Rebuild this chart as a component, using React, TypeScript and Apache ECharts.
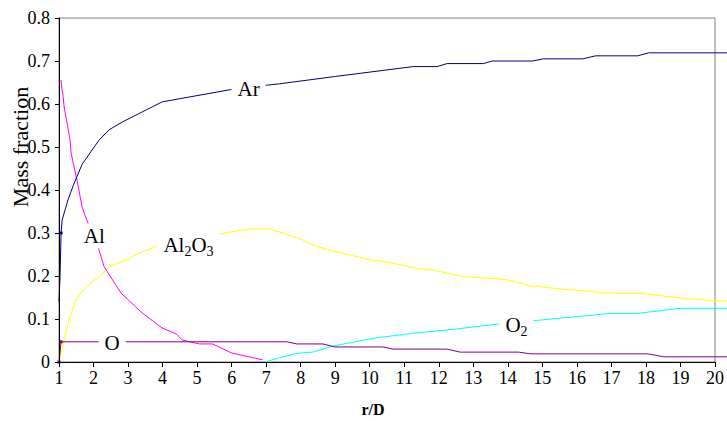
import React, { useEffect, useRef } from "react";
import * as echarts from "echarts";

// r/D positions and mass fractions
const arX = [1.0, 1.03, 1.06, 1.09, 1.26, 1.41, 1.67, 2.16, 2.45, 2.83, 3.99, 5.94, 7.04, 7.39, 9.0, 11.26, 11.95, 12.24, 13.29, 13.55, 14.71, 15.03, 16.17, 16.54, 17.76, 18.08, 20.35];
const arY = [0.14, 0.2, 0.3, 0.33, 0.377, 0.41, 0.46, 0.516, 0.54, 0.558, 0.605, 0.633, 0.644, 0.647, 0.664, 0.687, 0.687, 0.694, 0.694, 0.7, 0.7, 0.705, 0.705, 0.712, 0.712, 0.719, 0.719];

const alX = [1.06, 1.08, 1.12, 1.15, 1.32, 1.35, 1.52, 1.67, 1.78, 2.16, 2.31, 2.8, 3.41, 3.99, 4.4, 4.57, 5.07, 5.45, 6.0, 6.9];
const alY = [0.656, 0.637, 0.617, 0.593, 0.516, 0.486, 0.423, 0.36, 0.335, 0.26, 0.221, 0.16, 0.114, 0.079, 0.065, 0.051, 0.042, 0.042, 0.021, 0.005];

const al2o3X = [1.0, 1.06, 1.15, 1.29, 1.49, 1.78, 2.16, 2.45, 2.8, 3.32, 3.85, 5.94, 6.52, 7.1, 7.39, 8.06, 8.35, 8.93, 10.06, 10.67, 11.26, 11.95, 12.62, 13.99, 14.65, 15.53, 16.98, 17.79, 19.01, 20.03, 20.35];
const al2o3Y = [0.0, 0.02, 0.05, 0.098, 0.144, 0.175, 0.198, 0.221, 0.233, 0.253, 0.27, 0.302, 0.309, 0.309, 0.302, 0.284, 0.272, 0.258, 0.237, 0.23, 0.219, 0.212, 0.2, 0.191, 0.177, 0.17, 0.16, 0.16, 0.149, 0.142, 0.142];

const o2X = [6.96, 7.4, 7.89, 8.35, 8.93, 10.09, 11.26, 12.42, 13.7, 15.0, 16.98, 17.76, 19.01, 20.03, 20.35];
const o2Y = [0.0, 0.01, 0.02, 0.023, 0.037, 0.055, 0.067, 0.076, 0.088, 0.098, 0.113, 0.113, 0.125, 0.125, 0.125];

const oX = [1.0, 1.06, 7.6, 7.89, 8.64, 8.99, 10.38, 10.67, 12.24, 12.62, 14.31, 14.65, 18.05, 18.52, 20.35];
const oY = [0.0, 0.047, 0.047, 0.042, 0.042, 0.035, 0.035, 0.03, 0.03, 0.023, 0.023, 0.019, 0.019, 0.012, 0.012];

const xTicks = [1, 20];
const yTicks = [0, 0.8];

// series labels: [x, y] in data units
const arLabelAt = [6.49, 0.635];
const alLabelAt = [2.02, 0.293];
const al2o3LabelAt = [4.75, 0.277];
const o2LabelAt = [14.25, 0.091];
const oLabelAt = [2.54, 0.044];

const FONT = "'Liberation Serif', 'Times New Roman', Times, serif";

// plot frame (px) and how far the data lines run past the frame on the right
const PLOT_LEFT = 59;
const PLOT_RIGHT_GAP = 12;
const CHART_W = 727;

function pairs(xs: number[], ys: number[], marks: number[] = []) {
  return xs.map((x, i) =>
    marks.includes(i)
      ? { value: [x, ys[i]], symbol: "rect", symbolSize: 3 }
      : [x, ys[i]]
  );
}

function labelMark(at: number[], text: string, rich?: any) {
  return {
    silent: true,
    symbol: "rect",
    symbolSize: 0,
    data: [{ coord: at }],
    label: {
      show: true,
      position: "inside",
      formatter: text,
      color: "#000",
      fontFamily: FONT,
      fontSize: 21,
      backgroundColor: "#ffffff",
      padding: [2, 6, 2, 6],
      rich,
    },
  };
}

export default function App() {
  const ref = useRef<HTMLDivElement>(null);
  useEffect(() => {
    if (!ref.current) return;
    const chart = echarts.init(ref.current, null, { renderer: "svg" });
    const frameW = CHART_W - PLOT_LEFT - PLOT_RIGHT_GAP;
    const fullW = CHART_W - PLOT_LEFT;
    const extMax = xTicks[0] + (xTicks[1] - xTicks[0]) * (fullW / frameW);
    const lineBase = {
      type: "line",
      symbol: "none",
      showSymbol: true,
      clip: false,
      z: 2,
      xAxisIndex: 1,
      yAxisIndex: 1,
    };
    const subRich = {
      n: { fontFamily: FONT, fontSize: 21, color: "#000", lineHeight: 26, verticalAlign: "bottom" },
      s: { fontFamily: FONT, fontSize: 14, color: "#000", lineHeight: 20, verticalAlign: "bottom", padding: [0, 0, -3, 0] },
    };
    const hiddenAxis = {
      show: false,
      splitLine: { show: false },
      axisLine: { show: false },
      axisTick: { show: false },
      axisLabel: { show: false },
    };
    chart.setOption({
      animation: false,
      backgroundColor: "#ffffff",
      textStyle: { fontFamily: FONT },
      grid: [
        {
          left: PLOT_LEFT,
          top: 18,
          right: PLOT_RIGHT_GAP,
          bottom: 59,
          show: true,
          borderColor: "#808080",
          borderWidth: 1,
          backgroundColor: "transparent",
        },
        { left: PLOT_LEFT, top: 18, right: 0, bottom: 59, show: false },
      ],
      xAxis: [
        {
          type: "value",
          gridIndex: 0,
          min: xTicks[0],
          max: xTicks[1],
          interval: 1,
          splitLine: { show: false },
          axisLine: { show: true, onZero: false, lineStyle: { color: "#000", width: 1 } },
          axisTick: { show: true, inside: false, length: 5, lineStyle: { color: "#000" } },
          axisLabel: { color: "#000", fontFamily: FONT, fontSize: 18, margin: 7 },
          z: 5,
        },
        { type: "value", gridIndex: 1, min: xTicks[0], max: extMax, ...hiddenAxis },
      ],
      yAxis: [
        {
          type: "value",
          gridIndex: 0,
          min: yTicks[0],
          max: yTicks[1],
          interval: 0.1,
          splitLine: { show: false },
          axisLine: { show: true, lineStyle: { color: "#000", width: 1 } },
          axisTick: { show: true, inside: false, length: 4, lineStyle: { color: "#000" } },
          axisLabel: {
            color: "#000",
            fontFamily: FONT,
            fontSize: 18,
            margin: 9,
            formatter: (v: number) => String(Math.round(v * 10) / 10),
          },
          z: 5,
        },
        { type: "value", gridIndex: 1, min: yTicks[0], max: yTicks[1], ...hiddenAxis },
      ],
      graphic: [
        {
          type: "text",
          x: 20,
          y: 147,
          rotation: Math.PI / 2,
          style: {
            text: "Mass fraction",
            fontFamily: FONT,
            fontSize: 22,
            fill: "#000",
            align: "center",
            verticalAlign: "middle",
          },
          z: 10,
        },
        {
          type: "text",
          x: 373,
          y: 409,
          style: {
            text: "r/D",
            fontFamily: FONT,
            fontSize: 16,
            fontWeight: "bold",
            fill: "#000",
            align: "center",
            verticalAlign: "middle",
          },
        },
      ],
      series: [
        {
          ...lineBase,
          name: "Al2O3",
          data: pairs(al2o3X, al2o3Y),
          lineStyle: { color: "#ffff00", width: 1 },
          itemStyle: { color: "#ffff00" },
          markPoint: labelMark(al2o3LabelAt, "{n|Al}{s|2}{n|O}{s|3}", subRich),
        },
        {
          ...lineBase,
          name: "O2",
          data: pairs(o2X, o2Y),
          lineStyle: { color: "#00ffff", width: 1 },
          itemStyle: { color: "#00ffff" },
          markPoint: labelMark(o2LabelAt, "{n|O}{s|2}", subRich),
        },
        {
          ...lineBase,
          name: "Al",
          data: pairs(alX, alY),
          lineStyle: { color: "#ff00ff", width: 1 },
          itemStyle: { color: "#ff00ff" },
          markPoint: labelMark(alLabelAt, "Al"),
        },
        {
          ...lineBase,
          name: "O",
          data: pairs(oX, oY, [0, 1]),
          lineStyle: { color: "#800080", width: 1 },
          itemStyle: { color: "#800080" },
          markPoint: labelMark(oLabelAt, "O"),
        },
        {
          ...lineBase,
          name: "Ar",
          data: pairs(arX, arY, [2]),
          lineStyle: { color: "#000080", width: 1 },
          itemStyle: { color: "#000080" },
          markPoint: labelMark(arLabelAt, "Ar"),
        },
      ],
    });
    return () => chart.dispose();
  }, []);
  return <div ref={ref} style={{ width: 727, height: 421, position: "absolute", left: 0, top: 0 }} />;
}
